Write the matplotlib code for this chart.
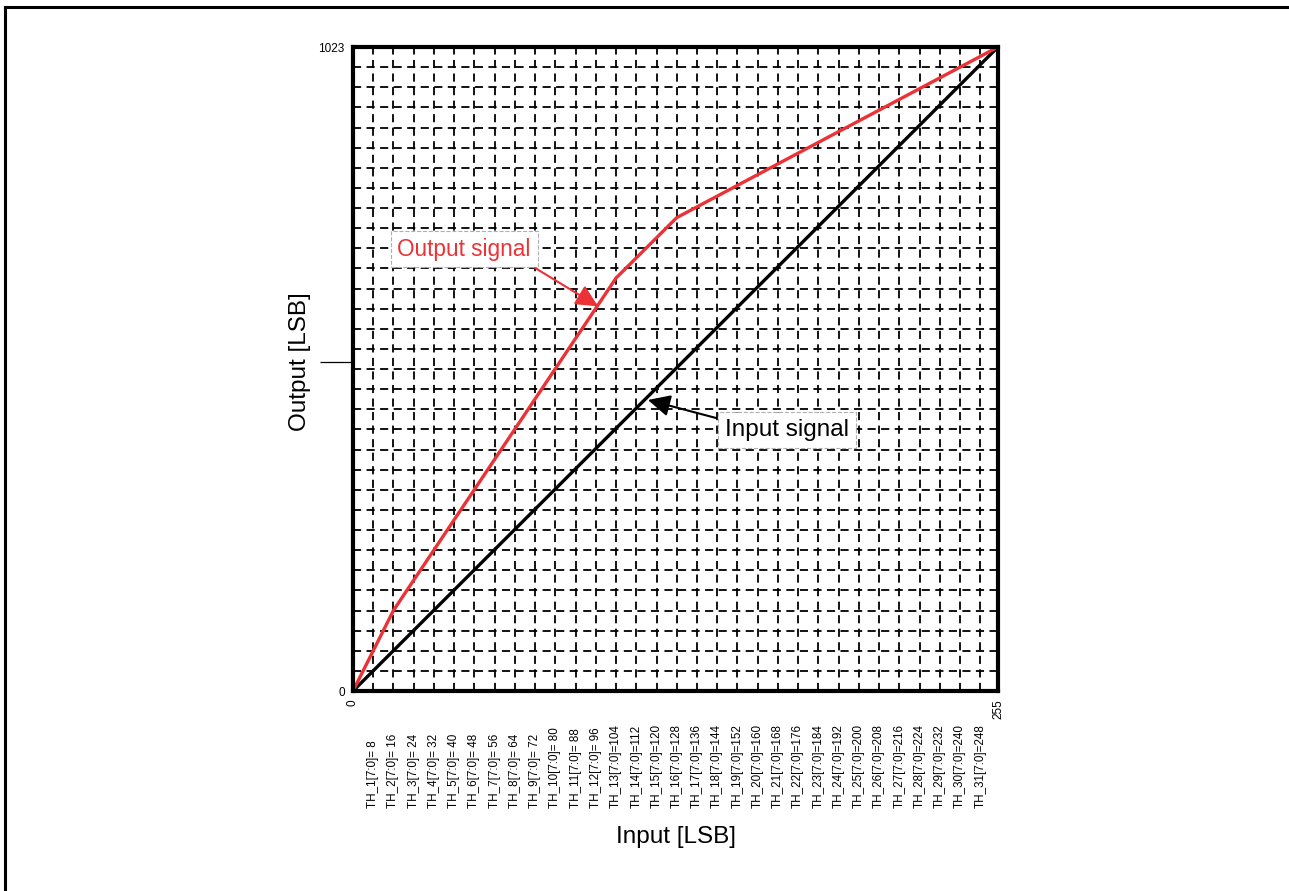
import matplotlib
matplotlib.use("Agg")
import matplotlib.pyplot as plt
import numpy as np
from matplotlib.lines import Line2D

plt.rcParams["font.family"] = ["Liberation Sans", "DejaVu Sans"]

# data
input_x = [0, 255]
input_y = [0, 1023]
output_x = [0, 16, 104, 128, 255]
output_y = [0, 128, 656, 752, 1023]

th_values = list(range(8, 256, 8))
th_labels = [f"TH_{i + 1}[7:0]=" + (" " if v < 100 else "") + str(v) for i, v in enumerate(th_values)]

fig = plt.figure(figsize=(12.89, 8.91), dpi=100)
ax = fig.add_axes([353 / 1289, 200 / 891, 645 / 1289, 644 / 891])

ax.set_xlim(0, 255)
ax.set_ylim(0, 1023)

# dashed grid
grid_style = dict(colors="black", linewidth=1.3, linestyles=(0, (4.5, 3.0)), zorder=1)
ax.vlines(th_values, 0, 1023, **grid_style)
ax.hlines(np.linspace(0, 1023, 33)[1:-1], 0, 255, **grid_style)

# signals
ax.plot(input_x, input_y, color="black", linewidth=2.4, zorder=3, solid_capstyle="butt")
ax.plot(output_x, output_y, color="#ec3236", linewidth=2.4, zorder=3)

for s in ax.spines.values():
    s.set_linewidth(3.0)
    s.set_zorder(4)

# ticks
ax.set_xticks([0, 255])
ax.set_xticklabels(["0", "255"], rotation=90, fontsize=8.5)
ax.set_yticks([0, 1023])
ax.set_yticklabels(["0", "1023"], fontsize=8.5)
ax.tick_params(which="major", length=0, pad=6)
ax.set_yticks([523], minor=True)
ax.tick_params(axis="y", which="minor", length=24, width=0.9)

trans = ax.get_xaxis_transform()
for v, lab in zip(th_values, th_labels):
    ax.text(v, -0.1817, lab, rotation=90, ha="center", va="bottom", fontsize=8.4, transform=trans)

ax.set_xlabel("Input [LSB]", fontsize=17.5)
ax.xaxis.set_label_coords(0.5, -0.2267)
ax.xaxis.label.set_va("center")
ax.set_ylabel("Output [LSB]", fontsize=17.5)
ax.yaxis.set_label_coords(-0.082, 0.512)
ax.yaxis.label.set_va("center")

# annotations
box = dict(boxstyle="square,pad=0.3", facecolor="white", edgecolor="#b0b0b0", linewidth=0.8, linestyle="--")
ax.text(43.9, 702, "Output signal", color="#ec3236", fontsize=16.3, ha="center", va="center", bbox=box, zorder=5)
ax.annotate("", xy=(96.9, 611), xytext=(72.0, 672),
            arrowprops=dict(arrowstyle="-|>,head_length=0.45,head_width=0.22", color="#ec3236",
                            linewidth=1.5, mutation_scale=30, shrinkA=0, shrinkB=0), zorder=5)
ax.text(171.6, 414.6, "Input signal", color="black", fontsize=17.5, ha="center", va="center", bbox=box, zorder=5)
ax.annotate("", xy=(116.6, 462.3), xytext=(143.5, 433.7),
            arrowprops=dict(arrowstyle="-|>,head_length=0.45,head_width=0.22", color="black",
                            linewidth=1.5, mutation_scale=30, shrinkA=0, shrinkB=0), zorder=5)

# outer frame (top and left only)
fig.add_artist(Line2D([5 / 1289, 1], [1 - 7 / 891, 1 - 7 / 891], color="black", linewidth=2.2))
fig.add_artist(Line2D([5 / 1289, 5 / 1289], [0, 1 - 7 / 891], color="black", linewidth=2.2))

fig.savefig("out.png", dpi=100)
